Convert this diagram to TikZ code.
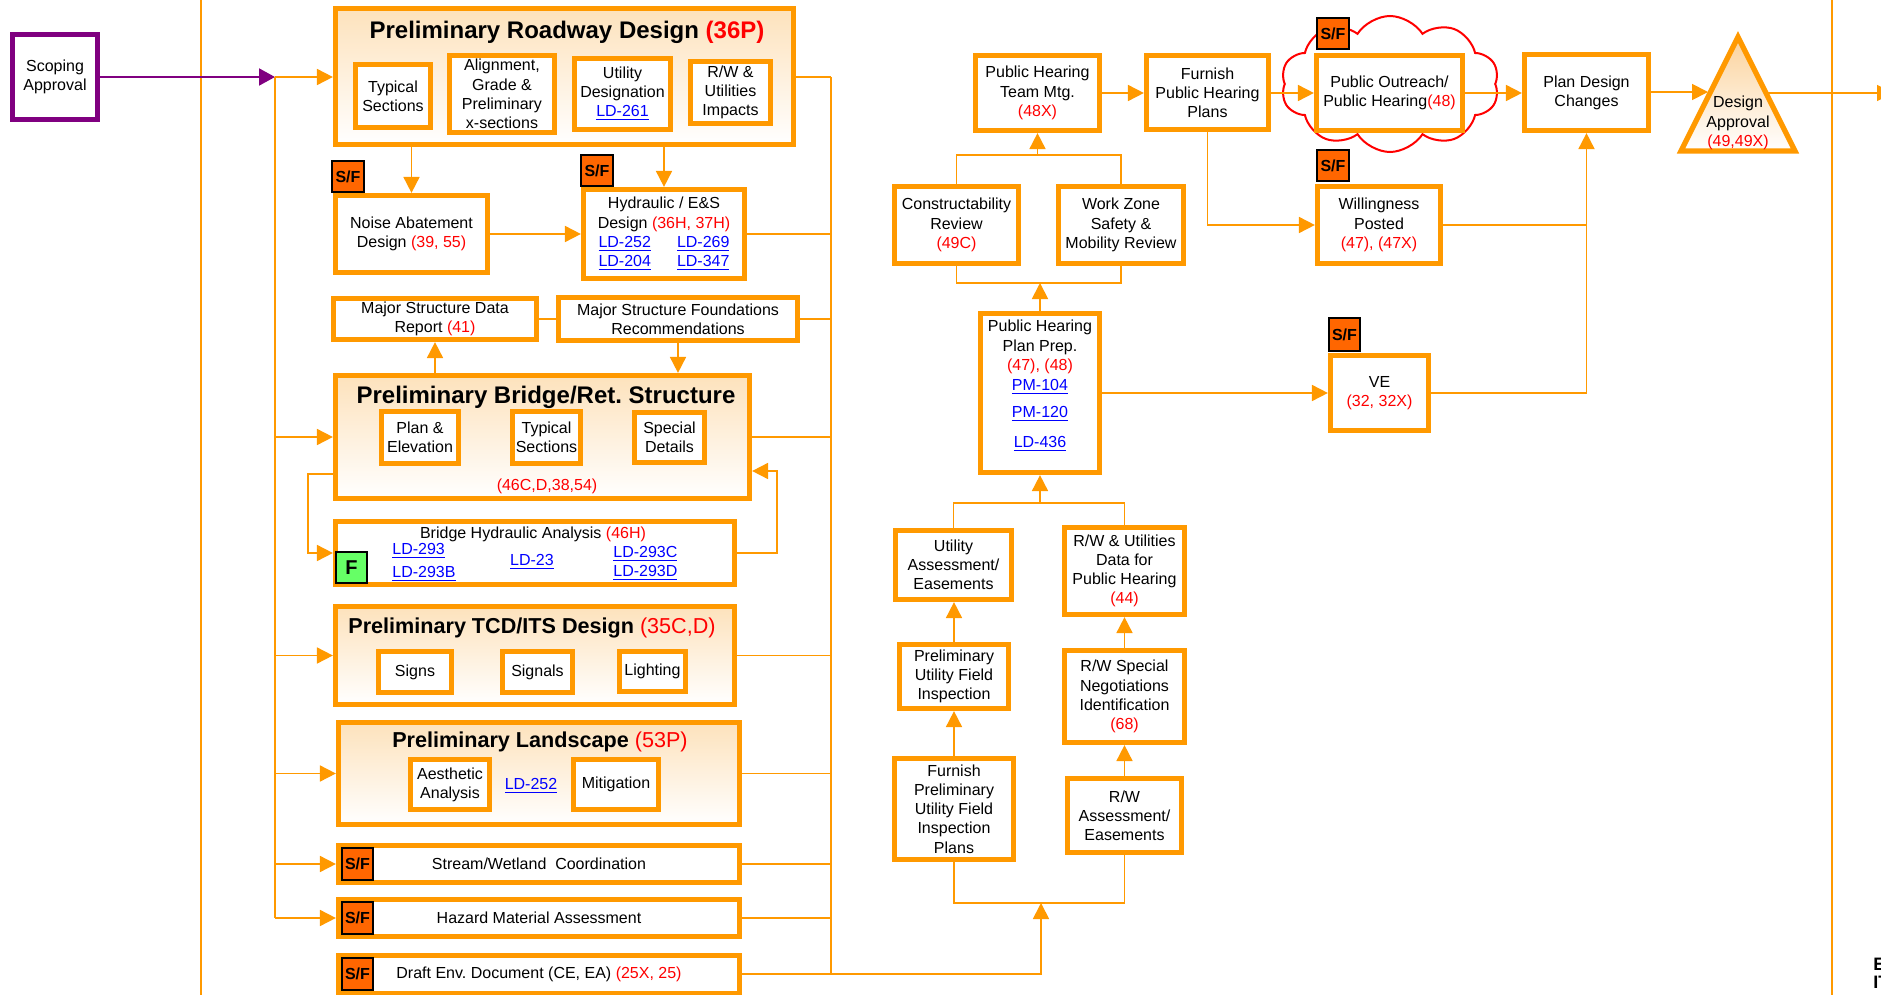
\documentclass[tikz,border=0pt]{standalone}
\usepackage{fontspec}
\setmainfont{Liberation Sans}
\usetikzlibrary{arrows.meta,shapes.symbols}
\frenchspacing
\definecolor{orange1}{RGB}{255,153,0}
\definecolor{peach}{RGB}{253,226,188}
\definecolor{trpeach}{RGB}{251,210,155}
\definecolor{purp}{RGB}{128,0,128}
\definecolor{sforange}{RGB}{255,102,0}
\definecolor{fgreen}{RGB}{102,255,102}
\definecolor{refred}{RGB}{255,0,0}
\definecolor{linkblue}{RGB}{0,0,255}
\newcommand\nf{\fontsize{8}{9.6}\selectfont}
\newcommand\rtx[1]{\textcolor{refred}{#1}}
\newcommand\lnk[1]{\textcolor{linkblue}{\underline{#1}}}
\newcommand\mkbox[7][box]{\node[#1, minimum width={(#5-#3-5)*0.5pt}, minimum height={(#6-#4-5)*0.5pt}] (#2) at ({(#3+#5)/2},{(#4+#6)/2}) {#7};}
\newcommand\mkbadge[7][badge]{\node[#1, minimum width={(#5-#3-1.6)*0.5pt}, minimum height={(#6-#4-1.6)*0.5pt}] (#2) at ({(#3+#5)/2},{(#4+#6)/2}) {#7};}
\begin{document}
\begin{tikzpicture}[x=0.5pt,y=-0.5pt,
  box/.style={draw=orange1, line width=2.6pt, fill=white, inner sep=0pt, align=center, font=\nf},
  grp/.style={draw=orange1, line width=2.6pt, top color=peach, bottom color=white, inner sep=0pt},
  badge/.style={draw=black, line width=0.8pt, fill=sforange, inner sep=0pt, font=\nf\bfseries},
  fbadge/.style={badge, fill=fgreen, font=\fontsize{10}{12}\selectfont\bfseries},
  txt/.style={inner sep=0pt, align=center, font=\nf},
  ttl/.style={inner sep=0pt, anchor=base, font=\fontsize{12}{14}\selectfont\bfseries},
  ttlb/.style={inner sep=0pt, anchor=base, font=\fontsize{10.8}{13}\selectfont\bfseries},
  con/.style={draw=orange1, line width=0.9pt},
  arr/.style={con, -{Triangle[length=8pt,width=8pt]}},
  parr/.style={draw=purp, line width=1pt, -{Triangle[length=8pt,width=8.5pt]}}
]
\useasboundingbox (0,0) rectangle (1881,995);
\fill[white] (0,0) rectangle (1881,995);

% separator lines
\coordinate (L1) at (201,0); \coordinate (L2) at (201,996);
\coordinate (R1) at (1832,0); \coordinate (R2) at (1832,996);
\draw[con] (L1) -- (L2);
\draw[con] (R1) -- (R2);

% scoping
\mkbox[box,draw=purp]{sa}{10}{32}{100}{122}{Scoping\\Approval}

% roadway
\mkbox[grp]{rd}{333}{6}{796}{147}{}
\node[ttl] (rdt) at (567,39) {Preliminary Roadway Design \rtx{(36P)}};
\mkbox{rd1}{353}{62}{433}{130}{Typical\\Sections}
\mkbox{rd2}{447}{53}{557}{135}{Alignment,\\Grade \&\\Preliminary\\x-sections}
\mkbox{rd3}{572}{56}{673}{132}{Utility\\Designation\\\lnk{LD-261}}
\mkbox{rd4}{688}{59}{773}{126}{R/W \&\\Utilities\\Impacts}

% noise / hydraulic
\mkbox{nz}{333}{193}{490}{275}{Noise Abatement\\Design \rtx{(39, 55)}}
\mkbadge{nzb}{331}{160}{365}{193}{S/F}
\mkbox{hy}{581}{187}{747}{281}{Hydraulic / E\&S\\Design \rtx{(36H, 37H)}\\\lnk{LD-252}\hspace{13pt}\lnk{LD-269}\\\lnk{LD-204}\hspace{13pt}\lnk{LD-347}}
\mkbadge{hyb}{580}{154}{614}{187}{S/F}

% major structure
\mkbox{ms}{331}{296}{539}{342}{Major Structure Data\\Report \rtx{(41)}}
\mkbox{mf}{556}{295}{800}{343}{Major Structure Foundations\\Recommendations}

% bridge
\mkbox[grp]{br}{333}{373}{752}{501}{}
\node[ttl] (brt) at (546,403) {Preliminary Bridge/Ret. Structure};
\mkbox{br1}{379}{409}{461}{466}{Plan \&\\Elevation}
\mkbox{br2}{510}{409}{583}{466}{Typical\\Sections}
\mkbox{br3}{632}{410}{707}{465}{Special\\Details}
\node[txt] (brc) at (547,486) {\rtx{(46C,D,38,54)}};

% bridge hydraulic
\mkbox{bh}{333}{519}{737}{587}{}
\node[txt] (bh0) at (533,534) {Bridge Hydraulic Analysis \rtx{(46H)}};
\node[txt,anchor=west] (bh1) at (392,551) {\lnk{LD-293}};
\node[txt,anchor=west] (bh2) at (392,574) {\lnk{LD-293B}};
\node[txt] (bh3) at (532,562) {\lnk{LD-23}};
\node[txt,anchor=west] (bh4) at (613,554) {\lnk{LD-293C}};
\node[txt,anchor=west] (bh5) at (613,573) {\lnk{LD-293D}};
\mkbadge[fbadge]{bhf}{335}{551}{368}{584}{F}

% TCD
\mkbox[grp]{tc}{333}{604}{737}{707}{}
\node[ttlb] (tct) at (532,633) {Preliminary TCD/ITS Design \rtx{\mdseries(35C,D)}};
\mkbox{tc1}{376}{649}{454}{695}{Signs}
\mkbox{tc2}{500}{649}{575}{695}{Signals}
\mkbox{tc3}{617}{649}{688}{694}{Lighting}

% landscape
\mkbox[grp]{ls}{336}{720}{742}{827}{}
\node[ttlb] (lst) at (540,747) {Preliminary Landscape \rtx{\mdseries(53P)}};
\mkbox{ls1}{408}{757}{492}{812}{Aesthetic\\Analysis}
\node[txt] (ls2) at (531,786) {\lnk{LD-252}};
\mkbox{ls3}{571}{757}{661}{812}{Mitigation}

% strips
\mkbox{sw}{336}{843}{742}{885}{Stream/Wetland\ \ Coordination}
\mkbadge{swb}{341}{847}{374}{881}{S/F}
\mkbox{hz}{336}{897}{742}{939}{Hazard Material Assessment}
\mkbadge{hzb}{341}{901}{374}{935}{S/F}
\mkbox{de}{336}{953}{742}{996}{Draft Env. Document (CE, EA) \rtx{(25X, 25)}}
\mkbadge{deb}{341}{957}{374}{991}{S/F}

% middle cluster
\mkbox{pt}{973}{53}{1102}{133}{Public Hearing\\Team Mtg.\\\rtx{(48X)}}
\mkbox{fp}{1144}{53}{1271}{132}{Furnish\\Public Hearing\\Plans}
\mkbox{cr}{892}{184}{1021}{266}{Constructability\\Review\\\rtx{(49C)}}
\mkbox{wz}{1056}{184}{1186}{266}{Work Zone\\Safety \&\\Mobility Review}
\mkbox{pp}{978}{311}{1102}{475}{}
\node[txt,anchor=base] (pp1) at (1040,331) {Public Hearing};
\node[txt,anchor=base] (pp2) at (1040,351) {Plan Prep.};
\node[txt,anchor=base] (pp3) at (1040,370) {\rtx{(47), (48)}};
\node[txt,anchor=base] (pp4) at (1040,390) {\lnk{PM-104}};
\node[txt,anchor=base] (pp5) at (1040,417) {\lnk{PM-120}};
\node[txt,anchor=base] (pp6) at (1040,447) {\lnk{LD-436}};
\mkbox{ua}{893}{528}{1014}{602}{Utility\\Assessment/\\Easements}
\mkbox{ru}{1062}{525}{1187}{617}{R/W \& Utilities\\Data for\\Public Hearing\\\rtx{(44)}}
\mkbox{pu}{897}{642}{1011}{711}{Preliminary\\Utility Field\\Inspection}
\mkbox{rs}{1062}{648}{1187}{745}{R/W Special\\Negotiations\\Identification\\\rtx{(68)}}
\mkbox{fu}{892}{756}{1016}{862}{Furnish\\Preliminary\\Utility Field\\Inspection\\Plans}
\mkbox{ra}{1065}{776}{1184}{855}{R/W\\Assessment/\\Easements}

% right cluster
\node[cloud, cloud puffs=10, cloud puff arc=115, aspect=1.6, draw=refred, line width=1pt, fill=white, minimum width=109pt, minimum height=68pt, inner sep=0pt] (cl) at (1390,84) {};
\mkbox{po}{1314}{53}{1465}{133}{Public Outreach/\\Public Hearing\rtx{(48)}}
\mkbadge{pob}{1316}{17}{1350}{50}{S/F}
\mkbox{wp}{1315}{184}{1443}{266}{Willingness\\Posted\\\rtx{(47), (47X)}}
\mkbadge{wpb}{1316}{149}{1350}{182}{S/F}
\mkbox{pd}{1522}{52}{1651}{133}{Plan Design\\Changes}
\mkbox{ve}{1328}{353}{1431}{433}{VE\\\rtx{(32, 32X)}}
\mkbadge{veb}{1328}{317}{1361}{352}{S/F}

% design approval triangle
\coordinate (daA) at (1738,37);
\coordinate (daL) at (1681,151);
\coordinate (daR) at (1795,151);
\draw[draw=orange1, line width=2.6pt, top color=trpeach, bottom color=white, line join=miter] (daA) -- (daL) -- (daR) -- cycle;
\node[txt] (da) at (1738,123) {Design\\Approval\\\rtx{(49,49X)}};
\coordinate (daIn) at (1708,92);
\coordinate (daOut) at (1768,93);
\coordinate (off) at (1893,93);

% bottom-right text, cut by the page edge as in the reference
\node[inner sep=0pt, anchor=base west, font=\fontsize{9}{11}\selectfont\bfseries] (e1) at (1873,970) {E};
\node[inner sep=0pt, anchor=base west, font=\fontsize{9}{11}\selectfont\bfseries] (e2) at (1873,988) {IT};

% ---------- connectors ----------
\coordinate (j0) at (275,77);
\coordinate (jb) at (275,918);
\draw[parr] (sa.east |- j0) -- (j0);
\draw[arr] (j0) -- (rd.west |- j0);
\draw[con] (j0) -- (jb);
\draw[arr] (j0 |- br.west) -- (br.west);
\draw[arr] (j0 |- tc.west) -- (tc.west);
\draw[arr] (j0 |- ls.west) -- (ls.west);
\draw[arr] (j0 |- sw.west) -- (sw.west);
\draw[arr] (jb) -- (hz.west);
% bridge loop left
\coordinate (lp1) at (308,474);
\draw[arr] (br.west |- lp1) -- (lp1) -- (lp1 |- bh.west) -- (bh.west);
% bridge loop right
\coordinate (fb1) at (777,553);
\coordinate (fb2) at (777,471);
\draw[arr] (bh.east |- fb1) -- (fb1) -- (fb2) -- (br.east |- fb2);
% roadway downstream
\draw[arr] (nz.north |- rd.south) -- (nz.north);
\draw[arr] (hy.north |- rd.south) -- (hy.north);
\draw[arr] (nz.east) -- (hy.west |- nz.east);
\draw[arr] (ms.south |- br.north) -- (ms.south);
\draw[arr] (mf.south) -- (mf.south |- br.north);
\draw[con] (ms.east) -- (mf.west |- ms.east);
% bus
\coordinate (bt) at (831,77);
\coordinate (bb) at (831,974);
\draw[con] (bt) -- (bb);
\draw[con] (rd.east |- bt) -- (bt);
\draw[con] (hy.east) -- (bt |- hy.east);
\draw[con] (mf.east) -- (bt |- mf.east);
\draw[con] (br.east |- 0,437) -- (bt |- 0,437);
\draw[con] (tc.east) -- (bt |- tc.east);
\draw[con] (ls.east) -- (bt |- ls.east);
\draw[con] (sw.east) -- (bt |- sw.east);
\draw[con] (hz.east) -- (bt |- hz.east);
\draw[con] (de.east |- bb) -- (bb);
\coordinate (jf) at (1041,903);
\draw[arr] (bb) -- (jf |- bb) -- (jf);
% middle cluster
\draw[con] (fu.south) -- (fu.south |- jf) -- (ra.south |- jf) -- (ra.south);
\draw[arr] (fu.north) -- (pu.south);
\draw[arr] (pu.north) -- (ua.south -| pu.north);
\draw[arr] (ra.north) -- (rs.south -| ra.north);
\draw[arr] (rs.north) -- (ru.south);
\coordinate (ju) at (1040,503);
\draw[con] (ua.north) -- (ua.north |- ju) -- (ru.north |- ju) -- (ru.north);
\draw[arr] (pp.south |- ju) -- (pp.south);
\coordinate (jc) at (1040,283);
\draw[con] (cr.south) -- (cr.south |- jc) -- (wz.south |- jc) -- (wz.south);
\draw[arr] (pp.north) -- (jc);
\coordinate (jt) at (1037,155);
\draw[con] (cr.north) -- (cr.north |- jt) -- (wz.north |- jt) -- (wz.north);
\draw[arr] (pt.south |- jt) -- (pt.south);
\draw[arr] (pt.east) -- (fp.west |- pt.east);
\draw[arr] (fp.east |- pt.east) -- (po.west |- pt.east);
\draw[arr] (po.east |- pt.east) -- (pd.west |- pt.east);
\draw[arr] (pd.east |- daIn) -- (daIn);
\draw[arr] (daOut) -- (off);
\draw[arr] (fp.south) -- (fp.south |- wp.west) -- (wp.west);
\draw[con] (wp.east) -- (pd.south |- wp.east);
\draw[arr] (pp.east) -- (ve.west);
\draw[arr] (ve.east) -- (pd.south |- ve.east) -- (pd.south);
\end{tikzpicture}
\end{document}
